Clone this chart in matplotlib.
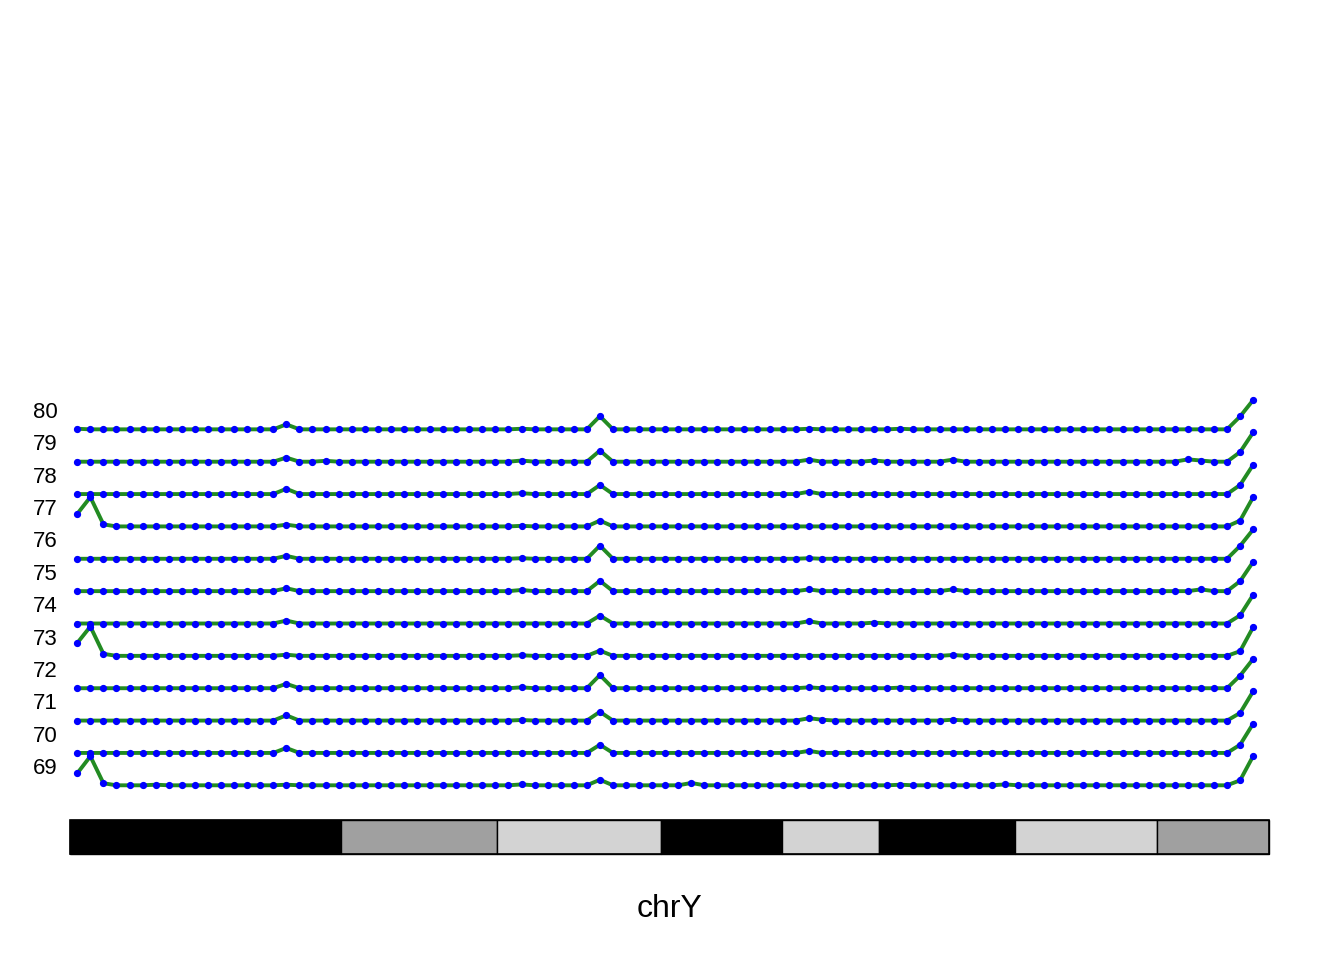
import numpy as np
import matplotlib
matplotlib.use("Agg")
import matplotlib.pyplot as plt
from matplotlib.patches import Rectangle

plt.rcParams['font.family'] = ['Liberation Sans', 'DejaVu Sans']

# chrY, 91 bins along the chromosome (Mb)
chrom_len = 57.227415
n_bins = 91
bin_first = 0.348
bin_step = 0.6236

# cytobands: start, end, colour
band_start = [0.0, 12.94, 20.38, 28.21, 33.98, 38.61, 45.10, 51.88]
band_end = [12.94, 20.38, 28.21, 33.98, 38.61, 45.10, 51.88, 57.227415]
band_color = ['black', '#A0A0A0', '#D3D3D3', 'black', '#D3D3D3', 'black', '#D3D3D3', '#A0A0A0']

# track labels, top to bottom
track_labels = ['80', '79', '78', '77', '76', '75', '74', '73', '72', '71', '70', '69']

# non-zero values per track (bin index: value, 0..1 of the track height)
vals_80 = {0: .02, 16: .17, 34: .02, 40: .45, 56: .02, 63: .02, 89: .44, 90: 1.0}
vals_79 = {16: .14, 19: .03, 34: .04, 40: .38, 56: .07, 61: .04, 67: .07, 85: .08, 86: .04, 89: .33, 90: 1.0}
vals_78 = {16: .18, 34: .03, 40: .31, 56: .08, 89: .31, 90: 1.0}
vals_77 = {0: .43, 1: 1.0, 2: .07, 16: .06, 34: .02, 40: .20, 89: .20, 90: 1.0}
vals_76 = {16: .10, 34: .02, 40: .45, 56: .02, 89: .44, 90: 1.0}
vals_75 = {16: .10, 34: .04, 40: .35, 56: .06, 67: .06, 86: .06, 89: .34, 90: 1.0}
vals_74 = {16: .10, 40: .27, 56: .08, 61: .03, 89: .28, 90: .98}
vals_73 = {0: .44, 1: 1.0, 2: .07, 16: .04, 34: .02, 40: .18, 67: .03, 89: .16, 90: .98}
vals_72 = {16: .15, 34: .03, 40: .45, 56: .03, 63: .02, 89: .43, 90: 1.0}
vals_71 = {16: .18, 34: .02, 40: .30, 56: .08, 57: .03, 67: .03, 89: .26, 90: 1.0}
vals_70 = {16: .17, 40: .28, 56: .07, 89: .28, 90: 1.0}
vals_69 = {0: .41, 1: .99, 2: .07, 6: .02, 16: .02, 34: .03, 40: .19, 47: .08, 63: .02, 71: .03, 89: .17, 90: 1.0}

track_vals = [vals_80, vals_79, vals_78, vals_77, vals_76, vals_75,
              vals_74, vals_73, vals_72, vals_71, vals_70, vals_69]

# layout (pixel based, 1344x960 canvas)
W, H = 1344, 960
px_left, px_right = 70, 1269
mb_per_px = chrom_len / (px_right - px_left)
row_px = 32.36
base_px = 785.3  # baseline of the bottom track
track_h = 29.3 / row_px

fig = plt.figure(figsize=(W / 100, H / 100), dpi=100)
ax = fig.add_axes([0, 0, 1, 1])
ax.set_xlim(-px_left * mb_per_px, (W - px_left) * mb_per_px)
ax.set_ylim((base_px - H) / row_px, base_px / row_px)
ax.axis('off')

x = bin_first + bin_step * np.arange(n_bins)

n = len(track_labels)
for i, (lab, d) in enumerate(zip(track_labels, track_vals)):
    k = n - 1 - i
    v = np.zeros(n_bins)
    for idx, val in d.items():
        v[idx] = val
    y = k + v * track_h
    ax.plot(x, y, color='#228B22', lw=2.8, zorder=2, solid_joinstyle='round')
    ax.plot(x, y, 'o', color='blue', ms=4.2, mec='blue', zorder=3)
    ax.text(-12 * mb_per_px, k + 16.8 / row_px, lab, ha='right', va='center', fontsize=16)

# ideogram
y0 = (base_px - 854) / row_px
y1 = (base_px - 820) / row_px
for s, e, c in zip(band_start, band_end, band_color):
    ax.add_patch(Rectangle((s, y0), e - s, y1 - y0, facecolor=c, edgecolor='black', lw=1.0))
ax.add_patch(Rectangle((0, y0), chrom_len, y1 - y0, fill=False, edgecolor='black', lw=1.2))

ax.text(chrom_len / 2, (base_px - 909) / row_px, 'chrY', ha='center', va='center', fontsize=23)

fig.savefig('out.png', dpi=100)
